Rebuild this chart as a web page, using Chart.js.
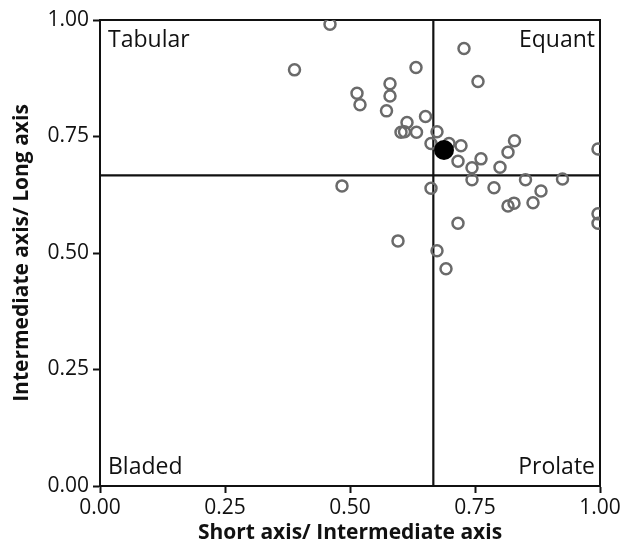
<!DOCTYPE html>
<html>
<head>
<meta charset="utf-8">
<script src="https://cdn.jsdelivr.net/npm/chart.js@4"></script>
<style>
  body { margin: 0; background: #fff; }
</style>
</head>
<body>
<canvas id="grafica" width="624" height="544"></canvas>
<script>
// short/intermediate (x) and intermediate/long (y) ratios for each clast
const shortInter = [0.460, 0.389, 0.632, 0.728, 0.756, 0.514, 0.520, 0.580, 0.580, 0.573,
  0.651, 0.614, 0.602, 0.609, 0.633, 0.674, 0.662, 0.698, 0.722, 0.716,
  0.762, 0.744, 0.800, 0.816, 0.829, 0.996, 0.744, 0.851, 0.925, 0.788,
  0.662, 0.882, 0.866, 0.828, 0.816, 0.996, 0.996, 0.716, 0.674, 0.692,
  0.596, 0.484];
const interLong = [0.991, 0.893, 0.898, 0.939, 0.868, 0.843, 0.818, 0.863, 0.837, 0.805,
  0.793, 0.780, 0.759, 0.760, 0.759, 0.760, 0.735, 0.735, 0.730, 0.697,
  0.702, 0.683, 0.684, 0.716, 0.741, 0.723, 0.657, 0.657, 0.659, 0.640,
  0.639, 0.633, 0.608, 0.607, 0.601, 0.584, 0.564, 0.564, 0.505, 0.466,
  0.526, 0.644];

// mean value
const meanX = [0.688];
const meanY = [0.721];

// class boundary (2/3) and axis ticks
const boundary = 2 / 3;
const tickValues = [0, 0.25, 0.5, 0.75, 1];
const quadrantLabels = ['Tabular', 'Equant', 'Bladed', 'Prolate'];

const puntos = shortInter.map((x, i) => ({ x: x, y: interLong[i] }));
const media = meanX.map((x, i) => ({ x: x, y: meanY[i] }));

const fuente = "'Open Sans', 'DejaVu Sans', sans-serif";

const marcoYEtiquetas = {
    id: 'marcoYEtiquetas',
    beforeDatasetsDraw(chart) {
        const { ctx, chartArea: a } = chart;
        ctx.save();
        ctx.strokeStyle = '#111';
        ctx.lineWidth = 2;
        ctx.strokeRect(a.left, a.top, a.right - a.left, a.bottom - a.top);
        ctx.font = '23px ' + fuente;
        ctx.fillStyle = '#111';
        ctx.textBaseline = 'middle';
        ctx.textAlign = 'left';
        ctx.fillText(quadrantLabels[0], a.left + 8, a.top + 20);
        ctx.fillText(quadrantLabels[2], a.left + 8, a.bottom - 19);
        ctx.textAlign = 'right';
        ctx.fillText(quadrantLabels[1], a.right - 5, a.top + 20);
        ctx.fillText(quadrantLabels[3], a.right - 5, a.bottom - 19);
        ctx.restore();
    }
};

new Chart(document.getElementById('grafica'), {
    type: 'scatter',

    data: {
        datasets: [
            {
                data: media,
                pointRadius: 10,
                pointBackgroundColor: '#000',
                pointBorderColor: '#000',
                pointBorderWidth: 0
            },
            {
                data: puntos,
                pointRadius: 5.5,
                pointBackgroundColor: 'rgba(255,255,255,0)',
                pointBorderColor: '#6a6a6a',
                pointBorderWidth: 2.5
            },
            {
                type: 'line',
                data: [{ x: boundary, y: 0 }, { x: boundary, y: 1 }],
                borderColor: '#111',
                borderWidth: 2.2,
                pointRadius: 0
            },
            {
                type: 'line',
                data: [{ x: 0, y: boundary }, { x: 1, y: boundary }],
                borderColor: '#111',
                borderWidth: 2.2,
                pointRadius: 0
            }
        ]
    },

    options: {
        responsive: false,
        animation: false,

        layout: {
            padding: { left: 12, right: 24, top: 20, bottom: 0 }
        },

        plugins: {
            legend: { display: false },
            tooltip: { enabled: false }
        },

        scales: {
            x: {
                type: 'linear',
                min: 0,
                max: 1,
                afterBuildTicks: (s) => { s.ticks = tickValues.map(v => ({ value: v })); },
                afterFit: (s) => { s.height = 58; },
                border: { display: true, color: '#111', width: 2 },
                grid: { drawOnChartArea: false, color: '#111', tickLength: 7, tickWidth: 2 },
                ticks: {
                    padding: 2,
                    color: '#111',
                    font: { family: fuente, size: 21 },
                    callback: (v) => Number(v).toFixed(2)
                },
                title: {
                    display: true,
                    text: 'Short axis/ Intermediate axis',
                    color: '#111',
                    padding: 0,
                    font: { family: fuente, size: 21, weight: 'bold', lineHeight: 1 }
                }
            },

            y: {
                type: 'linear',
                min: 0,
                max: 1,
                afterBuildTicks: (s) => { s.ticks = tickValues.map(v => ({ value: v })); },
                afterFit: (s) => { s.width = 88; },
                border: { display: true, color: '#111', width: 2 },
                grid: { drawOnChartArea: false, color: '#111', tickLength: 7, tickWidth: 2 },
                ticks: {
                    padding: 4,
                    color: '#111',
                    font: { family: fuente, size: 21 },
                    callback: (v) => Number(v).toFixed(2)
                },
                title: {
                    display: true,
                    text: 'Intermediate axis/ Long axis',
                    color: '#111',
                    padding: 0,
                    font: { family: fuente, size: 21, weight: 'bold', lineHeight: 1 }
                }
            }
        }
    },

    plugins: [marcoYEtiquetas]
});
</script>
</body>
</html>
